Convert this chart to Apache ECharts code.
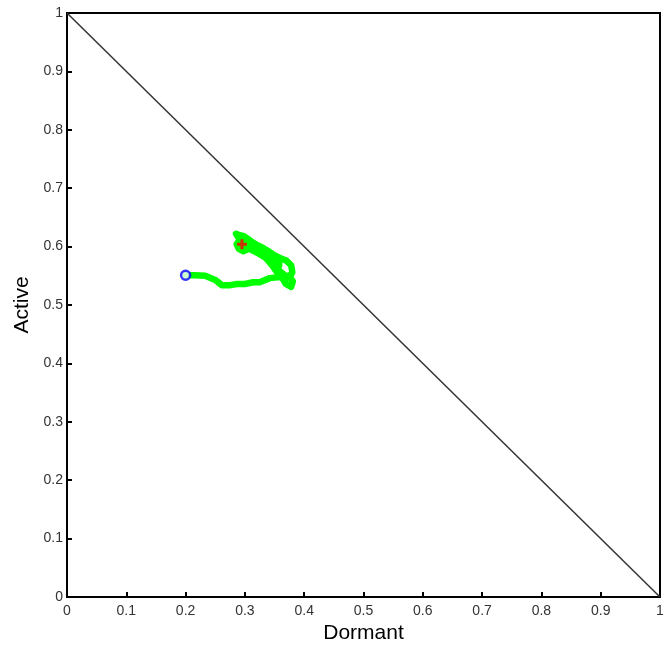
<!DOCTYPE html>
<html>
<head>
<meta charset="utf-8">
<script src="https://cdn.jsdelivr.net/npm/echarts@6/dist/echarts.min.js"></script>
<style>html,body{margin:0;padding:0;background:#fff}#c{width:667px;height:651px}</style>
</head>
<body>
<div id="c"></div>
<script>
var xTickLabels = ['0','0.1','0.2','0.3','0.4','0.5','0.6','0.7','0.8','0.9','1'];
var yTickLabels = ['0','0.1','0.2','0.3','0.4','0.5','0.6','0.7','0.8','0.9','1'];
var boundaryX = [0, 1];
var boundaryY = [1, 0];
var pathX = [0.200,0.216,0.233,0.250,0.261,0.275,0.287,0.300,0.314,0.325,0.342,0.359,0.373,0.381,0.378,0.369,0.362,0.354,0.346,0.336,0.325,0.312,0.300,0.292,0.285,0.290,0.298,0.305,0.312,0.320,0.330,0.340,0.350,0.360,0.370,0.378,0.380,0.375,0.366,0.356,0.358,0.352,0.340,0.328,0.316,0.304,0.292,0.286,0.290,0.297,0.306,0.302,0.295];
var pathY = [0.551,0.551,0.550,0.543,0.534,0.534,0.536,0.536,0.539,0.539,0.546,0.548,0.550,0.541,0.531,0.536,0.548,0.556,0.568,0.580,0.587,0.594,0.603,0.611,0.622,0.620,0.618,0.613,0.608,0.603,0.598,0.592,0.585,0.580,0.576,0.568,0.556,0.546,0.552,0.560,0.570,0.578,0.586,0.594,0.600,0.607,0.612,0.604,0.596,0.592,0.596,0.602,0.604];
var startPoint = [0.200, 0.551];
var endPoint = [0.295, 0.604];

var chart = echarts.init(document.getElementById('c'));
var font = '"Liberation Sans Narrow","Liberation Sans",Arial,sans-serif';
function pathData(){ var d=[]; for(var i=0;i<pathX.length;i++) d.push([pathX[i],pathY[i]]); return d; }
function axisCommon(labels, name, isY){
  return {
    type:'value', min:0, max:1, interval:0.1,
    name:name, nameLocation:'middle', nameGap:isY?30:26,
    nameTextStyle:{fontFamily:'"Liberation Sans",Arial,sans-serif', fontSize:21, color:'#000'},
    axisLine:{show:true, onZero:false, lineStyle:{color:'#000', width:2}},
    axisTick:{show:true, inside:true, length:5, lineStyle:{color:'#000', width:2}},
    splitLine:{show:false},
    axisLabel:{fontFamily:font, fontSize:14, color:'#333', margin:isY?4:7,
      formatter:function(v){ return labels[Math.round(v*10)]; }}
  };
}
chart.setOption({
  animation:false,
  backgroundColor:'#fff',
  grid:{left:67, right:7, top:13, bottom:54, show:true, borderColor:'#000', borderWidth:2, containLabel:false},
  xAxis:axisCommon(xTickLabels,'Dormant',false),
  yAxis:axisCommon(yTickLabels,'Active',true),
  series:[
    {type:'line', data:boundaryX.map(function(x,i){return [x,boundaryY[i]];}), showSymbol:false,
     lineStyle:{color:'#333', width:1.5}, z:2},
    {type:'line', data:pathData(), showSymbol:false,
     lineStyle:{color:'#00ff00', width:6.5, join:'round', cap:'round'}, z:3},
    {type:'scatter', data:[startPoint], symbol:'circle', symbolSize:9,
     itemStyle:{color:'#ffffff', borderColor:'#0000ff', borderWidth:2.5}, z:4},
    {type:'scatter', data:[endPoint], symbol:'path://M3.5,0H6.5V3.5H10V6.5H6.5V10H3.5V6.5H0V3.5H3.5Z', symbolSize:10,
     itemStyle:{color:'#ff0000'}, z:5}
  ]
});
</script>
</body>
</html>
